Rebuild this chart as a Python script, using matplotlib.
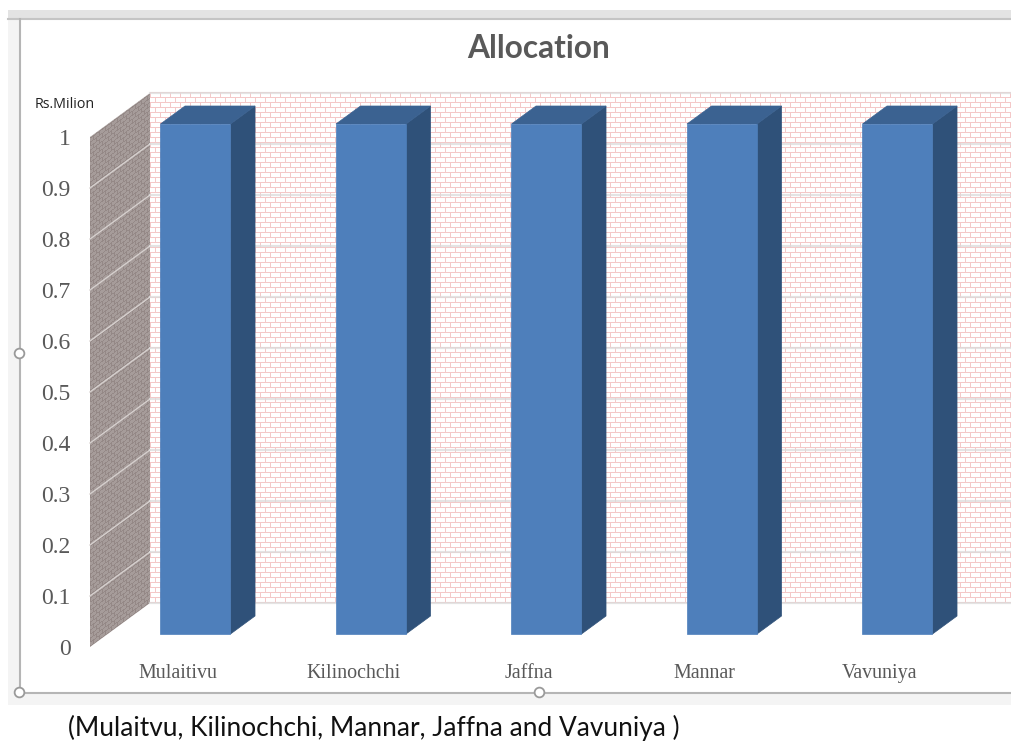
import numpy as np
import matplotlib
matplotlib.use("Agg")
import matplotlib.pyplot as plt
from matplotlib.patches import Polygon, Rectangle

# Data
districts = ["Mulaitivu", "Kilinochchi", "Jaffna", "Mannar", "Vavuniya"]
allocation = [1, 1, 1, 1, 1]
y_ticks = [0, 0.1, 0.2, 0.3, 0.4, 0.5, 0.6, 0.7, 0.8, 0.9, 1]
y_tick_labels = ["0", "0.1", "0.2", "0.3", "0.4", "0.5", "0.6", "0.7", "0.8", "0.9", "1"]

W, H = 1011, 743
# front plane of the 3D box, in pixels
X0, Y0, Y1 = 90, 647, 137
CAT_PX = 175.5
# depth of the box, in pixels
DEPTH_X, DEPTH_Y = 60, 44
BAR_PX = 70
BAR_NEAR, BAR_FAR = 13 / 44, 31 / 44

GREY = "#595959"

fig = plt.figure(figsize=(W / 100, H / 100), dpi=100)
fig.patch.set_facecolor("white")

# window chrome, in pixel coordinates
chrome = fig.add_axes([0, 0, 1, 1], zorder=0)
chrome.set_xlim(0, W)
chrome.set_ylim(H, 0)
chrome.axis("off")
chrome.add_patch(Rectangle((8, 10), W - 8, 695, fc="#f4f4f4", ec="none"))
chrome.add_patch(Rectangle((20, 19), W - 20, 673, fc="white", ec="none"))
chrome.add_patch(Rectangle((8, 10), W - 8, 8, fc="#e3e3e3", ec="none"))
chrome.plot([8, W], [18.5, 18.5], color="#c4c4c4", lw=1.5)
chrome.plot([19.5, 19.5], [19, 692], color="#b5b5b5", lw=1.5)
chrome.plot([19.5, W], [692.5, 692.5], color="#b5b5b5", lw=1.5)
chrome.plot([19, 19, 539], [353, 692, 692], ls="none", marker="o", ms=7, mfc="white",
            mec="#9a9a9a", mew=1.3)

chrome.text(539, 48, "Allocation", fontsize=22.8, fontweight="bold", color=GREY,
            family="Lato", ha="center", va="center")
chrome.text(64.5, 105, "Rs.Milion", fontsize=10.3, color="#222222", family="Open Sans",
            ha="center", va="center")
chrome.text(68, 728, "(Mulaitvu, Kilinochchi, Mannar, Jaffna and Vavuniya )", fontsize=18.9,
            color="#111111", family="Lato", ha="left", va="center")

# plot axes: front plane of the box
ax = fig.add_axes([X0 / W, (H - Y0) / H, (W - X0) / W, (Y0 - Y1) / H], zorder=1)
ax.patch.set_visible(False)
x_min, x_max = -0.5, (W - X0) / CAT_PX - 0.5
ax.set_xlim(x_min, x_max)
ax.set_ylim(0, 1)
for s in ax.spines.values():
    s.set_visible(False)

dx = DEPTH_X / CAT_PX
dy = DEPTH_Y / (Y0 - Y1)
bar_w = BAR_PX / CAT_PX


def project(x, y, d):
    return x + d * dx, y + d * dy


def brick_tile(width, height, shear=0.0, course_px=5, brick_px=10):
    # 1 where a mortar line falls, 0 inside a brick
    xx, yy = np.meshgrid(np.arange(width), np.arange(height))
    yy = yy + shear * xx
    course = np.floor(yy / course_px).astype(int)
    horiz = (yy % course_px) < 1
    vert = ((xx + brick_px // 2 * (course % 2)) % brick_px) < 1
    return horiz | vert


# back wall
back_w = W - (X0 + DEPTH_X)
tile = brick_tile(back_w, Y0 - Y1 + 1)
back_img = np.ones(tile.shape + (3,))
back_img[tile] = matplotlib.colors.to_rgb("#f4c8c8")
bx0, by0 = project(x_min, 0, 1)
im = ax.imshow(back_img, extent=(bx0, x_max, by0, by0 + 1 + 1 / (Y0 - Y1)), aspect="auto",
               interpolation="nearest", zorder=1)
im.set_clip_on(False)

# side wall, same bricks sheared along the depth
tile = brick_tile(DEPTH_X, Y0 - Y1 + DEPTH_Y, shear=DEPTH_Y / DEPTH_X, course_px=4, brick_px=6)
side_img = np.empty(tile.shape + (3,))
side_img[:] = matplotlib.colors.to_rgb("#a69c9a")
side_img[tile] = matplotlib.colors.to_rgb("#948886")
im = ax.imshow(side_img, extent=(x_min, x_min + dx, 0, 1 + dy), aspect="auto",
               interpolation="bilinear", zorder=1)
wall = Polygon([project(x_min, 0, 0), project(x_min, 0, 1), project(x_min, 1, 1),
                project(x_min, 1, 0)], closed=True, fc="none", ec="none",
               transform=ax.transData, clip_on=False)
ax.add_patch(wall)
im.set_clip_box(fig.bbox)
im.set_clip_path(wall)

# gridlines on both walls
for t in y_ticks:
    px, py = project(x_min, t, 0)
    qx, qy = project(x_min, t, 1)
    if t > 0 and t < 1:
        ax.plot([px, qx], [py, qy], color="#d6d0ce", lw=1.0, zorder=2, clip_on=False)
    ax.plot([qx, x_max], [qy, qy], color="#dcdcdc", lw=1.6, alpha=0.75, zorder=2, clip_on=False)

# bars
x = np.arange(len(districts))
for xi, v in zip(x, allocation):
    left, base = project(xi - bar_w / 2, 0, BAR_NEAR)
    right = left + bar_w
    top = base + v
    shift_x = (BAR_FAR - BAR_NEAR) * dx
    shift_y = (BAR_FAR - BAR_NEAR) * dy
    ax.add_patch(Polygon([(right, base), (right + shift_x, base + shift_y),
                          (right + shift_x, top + shift_y), (right, top)],
                         fc="#2f5179", ec="#2f5179", lw=0.5, zorder=3, clip_on=False))
    ax.add_patch(Polygon([(left, top), (right, top), (right + shift_x, top + shift_y),
                          (left + shift_x, top + shift_y)],
                         fc="#3b6291", ec="#3b6291", lw=0.5, zorder=3, clip_on=False))
    ax.bar(left + bar_w / 2, v, bar_w, bottom=base, color="#4e7fbb", edgecolor="#4e7fbb",
           linewidth=0.5, zorder=4, clip_on=False)

ax.set_xlim(x_min, x_max)
ax.set_ylim(0, 1)
ax.set_yticks(y_ticks, y_tick_labels, family="Liberation Serif", fontsize=17, color=GREY)
ax.set_xticks(x, districts, family="Liberation Serif", fontsize=14.4, color=GREY)
ax.tick_params(axis="y", length=0, pad=14)
ax.tick_params(axis="x", length=0, pad=12)

fig.savefig("out.png", dpi=100)
